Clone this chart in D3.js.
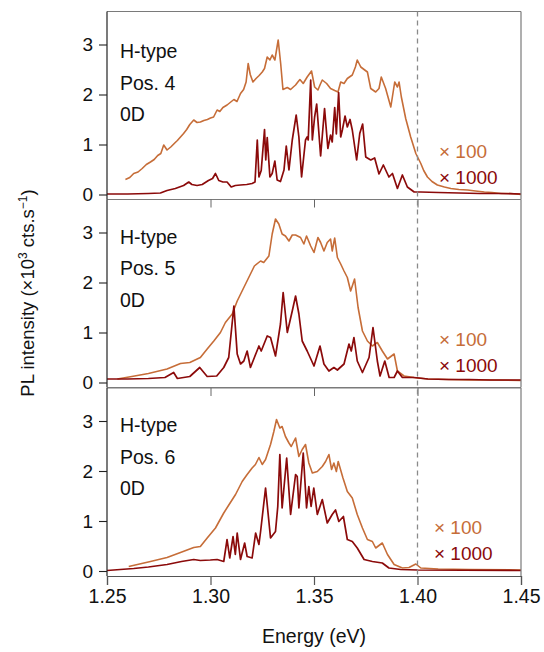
<!DOCTYPE html>
<html>
<head>
<meta charset="utf-8">
<script src="https://cdn.jsdelivr.net/npm/d3@7"></script>
<style>
  html, body { margin: 0; padding: 0; background: #fff; }
  svg { display: block; }
  text { font-family: "Liberation Sans", Arial, sans-serif; }
</style>
</head>
<body>
<svg id="chart" width="544" height="652"></svg>
<script>
// Photoluminescence spectra of H-type aggregates at three positions.
// Each spectrum is a list of [energy (eV), intensity (x10^3 cts/s)] points.

const energyTicks = [1.25, 1.30, 1.35, 1.40, 1.45];
const intensityTicks = [0, 1, 2, 3];
const positionLabels = ["Pos. 4", "Pos. 5", "Pos. 6"];
const scaleLabels = ["× 100", "× 1000"];
const markerEnergy = 1.40;

// Position 4
const pos4x100 = [
  [1.2589,0.30],[1.2610,0.34],[1.2629,0.42],[1.2650,0.45],[1.2670,0.52],[1.2690,0.60],[1.2710,0.65],
  [1.2728,0.70],[1.2745,0.78],[1.2760,0.82],[1.2774,0.99],[1.2790,0.89],[1.2808,0.95],[1.2825,1.02],
  [1.2840,1.08],[1.2855,1.15],[1.2870,1.22],[1.2885,1.30],[1.2900,1.40],[1.2919,1.49],[1.2935,1.44],
  [1.2951,1.45],[1.2968,1.48],[1.2985,1.50],[1.3000,1.53],[1.3015,1.55],[1.3032,1.69],[1.3045,1.66],
  [1.3060,1.74],[1.3080,1.79],[1.3095,1.84],[1.3113,1.90],[1.3128,1.86],[1.3145,2.02],[1.3160,2.10],
  [1.3172,2.25],[1.3182,2.62],[1.3192,2.40],[1.3205,2.25],[1.3220,2.32],[1.3235,2.38],[1.3250,2.45],
  [1.3261,2.52],[1.3274,2.75],[1.3287,2.69],[1.3298,2.79],[1.3311,2.69],[1.3327,3.09],[1.3339,2.62],
  [1.3350,2.10],[1.3371,2.14],[1.3387,2.10],[1.3400,2.15],[1.3411,2.19],[1.3422,2.25],[1.3432,2.30],
  [1.3448,2.22],[1.3467,2.35],[1.3488,2.47],[1.3503,2.15],[1.3519,2.09],[1.3530,2.20],[1.3540,2.29],
  [1.3561,2.22],[1.3580,2.12],[1.3600,2.08],[1.3616,2.05],[1.3629,2.25],[1.3645,2.22],[1.3661,2.32],
  [1.3685,2.39],[1.3700,2.55],[1.3709,2.69],[1.3726,2.55],[1.3745,2.49],[1.3758,2.45],[1.3774,2.12],
  [1.3798,2.05],[1.3814,2.12],[1.3825,2.35],[1.3846,2.12],[1.3871,1.75],[1.3890,2.25],[1.3903,2.15],
  [1.3911,2.25],[1.3922,1.95],[1.3943,1.52],[1.3967,1.15],[1.3992,0.82],[1.4016,0.62],[1.4030,0.48],
  [1.4048,0.35],[1.4070,0.26],[1.4096,0.19],[1.4130,0.15],[1.4161,0.12],[1.4200,0.10],[1.4242,0.09],
  [1.4280,0.07],[1.4323,0.05],[1.4360,0.04],[1.4403,0.02],[1.4450,0.02],[1.4500,0.00]
];
const pos4x1000 = [
  [1.2500,0.01],[1.2600,0.01],[1.2700,0.02],[1.2758,0.03],[1.2790,0.08],[1.2830,0.12],[1.2870,0.18],
  [1.2895,0.25],[1.2910,0.20],[1.2935,0.18],[1.2960,0.20],[1.2990,0.28],[1.3010,0.32],[1.3024,0.42],
  [1.3040,0.28],[1.3060,0.25],[1.3080,0.25],[1.3100,0.15],[1.3120,0.18],[1.3145,0.19],[1.3175,0.20],
  [1.3201,0.22],[1.3215,0.25],[1.3226,1.09],[1.3234,0.35],[1.3245,0.48],[1.3261,1.30],[1.3267,0.69],
  [1.3274,1.14],[1.3287,0.35],[1.3298,0.42],[1.3311,0.67],[1.3322,0.29],[1.3338,0.26],[1.3355,0.49],
  [1.3366,0.97],[1.3379,0.49],[1.3395,1.09],[1.3414,1.59],[1.3427,1.15],[1.3440,0.35],[1.3459,1.09],
  [1.3467,1.15],[1.3472,1.09],[1.3484,2.29],[1.3492,1.09],[1.3503,1.55],[1.3513,1.81],[1.3532,0.77],
  [1.3551,1.72],[1.3567,0.92],[1.3580,1.19],[1.3588,1.05],[1.3600,1.74],[1.3608,1.21],[1.3619,2.04],
  [1.3629,1.15],[1.3637,1.29],[1.3650,1.57],[1.3661,1.35],[1.3674,1.50],[1.3685,1.29],[1.3706,0.69],
  [1.3721,1.22],[1.3735,1.41],[1.3750,0.75],[1.3774,0.69],[1.3793,0.73],[1.3814,0.41],[1.3835,0.59],
  [1.3862,0.35],[1.3879,0.42],[1.3903,0.12],[1.3927,0.39],[1.3951,0.15],[1.3984,0.05],[1.4016,0.05],
  [1.4100,0.04],[1.4200,0.03],[1.4300,0.02],[1.4400,0.02],[1.4500,0.01]
];

// Position 5
const pos5x100 = [
  [1.2550,0.07],[1.2620,0.12],[1.2700,0.18],[1.2790,0.27],[1.2855,0.38],[1.2900,0.40],[1.2951,0.50],
  [1.2984,0.67],[1.3016,0.83],[1.3048,1.00],[1.3072,1.20],[1.3105,1.37],[1.3129,1.63],[1.3161,1.90],
  [1.3193,2.17],[1.3212,2.33],[1.3242,2.43],[1.3257,2.40],[1.3282,2.53],[1.3298,2.97],[1.3314,3.27],
  [1.3330,3.17],[1.3346,2.97],[1.3362,2.93],[1.3379,2.83],[1.3395,2.95],[1.3411,2.95],[1.3435,2.90],
  [1.3451,2.77],[1.3464,2.93],[1.3484,2.73],[1.3500,2.60],[1.3519,2.90],[1.3532,2.80],[1.3548,2.63],
  [1.3564,2.80],[1.3580,2.87],[1.3588,2.63],[1.3600,2.89],[1.3613,2.50],[1.3629,2.37],[1.3645,2.23],
  [1.3661,2.10],[1.3677,1.83],[1.3696,2.07],[1.3713,1.50],[1.3734,1.03],[1.3758,0.83],[1.3782,0.73],
  [1.3806,0.80],[1.3830,0.63],[1.3855,0.47],[1.3887,0.57],[1.3903,0.23],[1.3935,0.13],[1.3983,0.10],
  [1.4050,0.07],[1.4150,0.06],[1.4250,0.05],[1.4350,0.05],[1.4500,0.04]
];
const pos5x1000 = [
  [1.2500,0.07],[1.2600,0.07],[1.2700,0.08],[1.2780,0.10],[1.2822,0.20],[1.2840,0.08],[1.2900,0.12],
  [1.2948,0.30],[1.2984,0.12],[1.3030,0.13],[1.3064,0.30],[1.3088,0.50],[1.3113,1.53],[1.3129,0.57],
  [1.3145,0.37],[1.3161,0.43],[1.3177,0.63],[1.3193,0.30],[1.3212,0.50],[1.3234,0.73],[1.3245,0.63],
  [1.3274,0.93],[1.3290,0.90],[1.3314,0.53],[1.3338,1.17],[1.3351,1.80],[1.3371,1.00],[1.3395,1.43],
  [1.3411,1.73],[1.3427,1.37],[1.3443,0.83],[1.3467,0.63],[1.3500,0.33],[1.3529,0.73],[1.3548,0.37],
  [1.3572,0.23],[1.3596,0.30],[1.3613,0.25],[1.3645,0.37],[1.3669,0.77],[1.3680,0.63],[1.3693,0.90],
  [1.3709,0.43],[1.3734,0.20],[1.3766,0.50],[1.3785,1.10],[1.3806,0.43],[1.3819,0.13],[1.3842,0.43],
  [1.3863,0.10],[1.3887,0.10],[1.3903,0.23],[1.3927,0.10],[1.3983,0.10],[1.4050,0.07],[1.4150,0.06],
  [1.4250,0.06],[1.4350,0.05],[1.4500,0.05]
];

// Position 6
const pos6x100 = [
  [1.2605,0.09],[1.2710,0.19],[1.2790,0.27],[1.2855,0.37],[1.2919,0.47],[1.2951,0.49],[1.2984,0.66],
  [1.3024,0.86],[1.3064,1.16],[1.3090,1.33],[1.3121,1.53],[1.3153,1.79],[1.3177,1.93],[1.3201,2.06],
  [1.3217,2.13],[1.3234,2.27],[1.3250,2.13],[1.3266,2.23],[1.3290,2.53],[1.3306,2.79],[1.3319,3.03],
  [1.3335,2.86],[1.3346,2.89],[1.3362,2.69],[1.3379,2.56],[1.3390,2.49],[1.3411,2.66],[1.3427,2.29],
  [1.3443,2.43],[1.3459,2.53],[1.3475,2.16],[1.3492,1.96],[1.3516,1.99],[1.3540,2.09],[1.3556,2.19],
  [1.3572,2.33],[1.3585,2.03],[1.3596,2.16],[1.3608,1.99],[1.3617,2.19],[1.3640,1.86],[1.3661,1.59],
  [1.3685,1.46],[1.3709,1.13],[1.3734,0.86],[1.3758,0.63],[1.3782,0.59],[1.3798,0.46],[1.3830,0.56],
  [1.3855,0.33],[1.3887,0.13],[1.3927,0.06],[1.3959,0.07],[1.3992,0.14],[1.4016,0.06],[1.4100,0.04],
  [1.4250,0.03],[1.4500,0.02]
];
const pos6x1000 = [
  [1.2500,0.01],[1.2629,0.05],[1.2700,0.08],[1.2790,0.13],[1.2860,0.19],[1.2919,0.23],[1.2951,0.21],
  [1.2999,0.22],[1.3032,0.23],[1.3064,0.19],[1.3080,0.63],[1.3093,0.26],[1.3109,0.69],[1.3120,0.33],
  [1.3129,0.76],[1.3145,0.23],[1.3165,0.56],[1.3177,0.29],[1.3201,0.26],[1.3218,0.76],[1.3234,0.53],
  [1.3242,0.79],[1.3266,1.66],[1.3290,0.66],[1.3314,0.79],[1.3325,1.29],[1.3335,2.33],[1.3346,1.26],
  [1.3368,2.26],[1.3387,1.13],[1.3411,1.93],[1.3419,1.89],[1.3427,1.26],[1.3448,2.36],[1.3464,1.26],
  [1.3475,1.69],[1.3486,1.29],[1.3499,1.66],[1.3516,1.13],[1.3540,1.43],[1.3564,0.96],[1.3588,1.13],
  [1.3604,1.22],[1.3620,0.99],[1.3642,1.09],[1.3661,0.63],[1.3685,0.59],[1.3709,0.46],[1.3742,0.23],
  [1.3782,0.19],[1.3830,0.16],[1.3862,0.06],[1.3919,0.03],[1.4000,0.02],[1.4500,0.01]
];

const weakSeries = [pos4x100, pos5x100, pos6x100];
const strongSeries = [pos4x1000, pos5x1000, pos6x1000];

// ---- layout & style ----
const colorWeak = "#c66d38";
const colorStrong = "#8b0a0a";
const left = 107, right = 521;
const panelTops = [11.5, 199.5, 388];
const panelH = 188;
const labelTop = [46.5, 44, 44];
const legendX = [439, 439, 434];
const fontFamily = "Liberation Sans, Arial, sans-serif";

const svg = d3.select("#chart");
const x = d3.scaleLinear().domain([1.25, 1.45]).range([left, right]);

panelTops.forEach((top, i) => {
  const y = d3.scaleLinear().domain([-0.1, 3.66]).range([top + panelH, top]);
  const g = svg.append("g");

  const line = d3.line().x(d => x(d[0])).y(d => y(d[1]));

  g.append("path").datum(weakSeries[i])
    .attr("d", line).attr("fill", "none")
    .attr("stroke", colorWeak).attr("stroke-width", 1.6)
    .attr("stroke-linejoin", "round");
  g.append("path").datum(strongSeries[i])
    .attr("d", line).attr("fill", "none")
    .attr("stroke", colorStrong).attr("stroke-width", 1.7)
    .attr("stroke-linejoin", "round");

  // frame: top and right edges
  g.append("line").attr("x1", left).attr("x2", right).attr("y1", top).attr("y2", top)
    .attr("stroke", "#7a7a7a").attr("stroke-width", 1);
  g.append("line").attr("x1", right).attr("x2", right).attr("y1", top).attr("y2", top + panelH)
    .attr("stroke", "#7a7a7a").attr("stroke-width", 1.2);

  // inward energy ticks along the top of lower panels
  if (i > 0) {
    g.append("g").attr("transform", `translate(0,${top})`)
      .call(d3.axisBottom(x).tickValues(energyTicks.slice(1, -1)).tickSize(8).tickFormat(""))
      .call(a => a.select(".domain").remove())
      .call(a => a.selectAll("line").attr("stroke", "#666"));
  }

  // bottom edge (the last panel carries the labelled energy axis)
  if (i < 2) {
    g.append("line").attr("x1", left).attr("x2", right)
      .attr("y1", top + panelH).attr("y2", top + panelH)
      .attr("stroke", "#7a7a7a").attr("stroke-width", 1);
  } else {
    const ax = g.append("g").attr("transform", `translate(0,${top + panelH})`)
      .call(d3.axisBottom(x).tickValues(energyTicks).tickSize(9).tickPadding(4)
        .tickFormat(d3.format(".2f")));
    ax.select(".domain").attr("stroke", "#555").attr("stroke-width", 1.2);
    ax.selectAll("line").attr("stroke", "#555").attr("stroke-width", 1.2);
    ax.selectAll("text").attr("font-size", 19.5).attr("fill", "#111")
      .attr("font-family", fontFamily);
  }

  // intensity axis
  const ay = g.append("g").attr("transform", `translate(${left},0)`)
    .call(d3.axisLeft(y).tickValues(intensityTicks).tickSize(8).tickPadding(6)
      .tickFormat(d3.format("d")));
  ay.select(".domain").attr("d", `M0,${top}V${top + panelH}`)
    .attr("stroke", "#222").attr("stroke-width", 1.2);
  ay.selectAll("line").attr("stroke", "#222").attr("stroke-width", 1.1);
  ay.selectAll("text").attr("font-size", 19).attr("fill", "#111")
    .attr("font-family", fontFamily);

  // sample labels
  ["H-type", positionLabels[i], "0D"].forEach((t, k) => {
    g.append("text").attr("x", 120).attr("y", top + labelTop[i] + k * 31.5)
      .attr("font-size", 19.5).attr("fill", "#111").text(t);
  });

  // scale factors
  [colorWeak, colorStrong].forEach((c, k) => {
    g.append("text").attr("x", legendX[i]).attr("y", top + 146 + k * 26)
      .attr("font-size", 19).attr("fill", c).text(scaleLabels[k]);
  });
});

// reference energy marker across all panels
svg.append("line")
  .attr("x1", x(markerEnergy)).attr("x2", x(markerEnergy))
  .attr("y1", panelTops[0]).attr("y2", panelTops[2] + panelH)
  .attr("stroke", "#8a8a8a").attr("stroke-width", 1.3)
  .attr("stroke-dasharray", "5,4");

// axis titles
svg.append("text")
  .attr("x", (left + right) / 2).attr("y", 643)
  .attr("text-anchor", "middle").attr("font-size", 19.5).attr("fill", "#111")
  .text("Energy (eV)");

const yTitle = svg.append("text")
  .attr("transform", "translate(34,293) rotate(-90)")
  .attr("text-anchor", "middle").attr("font-size", 18.5).attr("fill", "#111");
yTitle.append("tspan").text("PL intensity (×10");
yTitle.append("tspan").attr("dy", -7).attr("font-size", 12).text("3");
yTitle.append("tspan").attr("dy", 7).text(" cts.s");
yTitle.append("tspan").attr("dy", -7).attr("font-size", 12).text("−1");
yTitle.append("tspan").attr("dy", 7).text(")");
</script>
</body>
</html>
